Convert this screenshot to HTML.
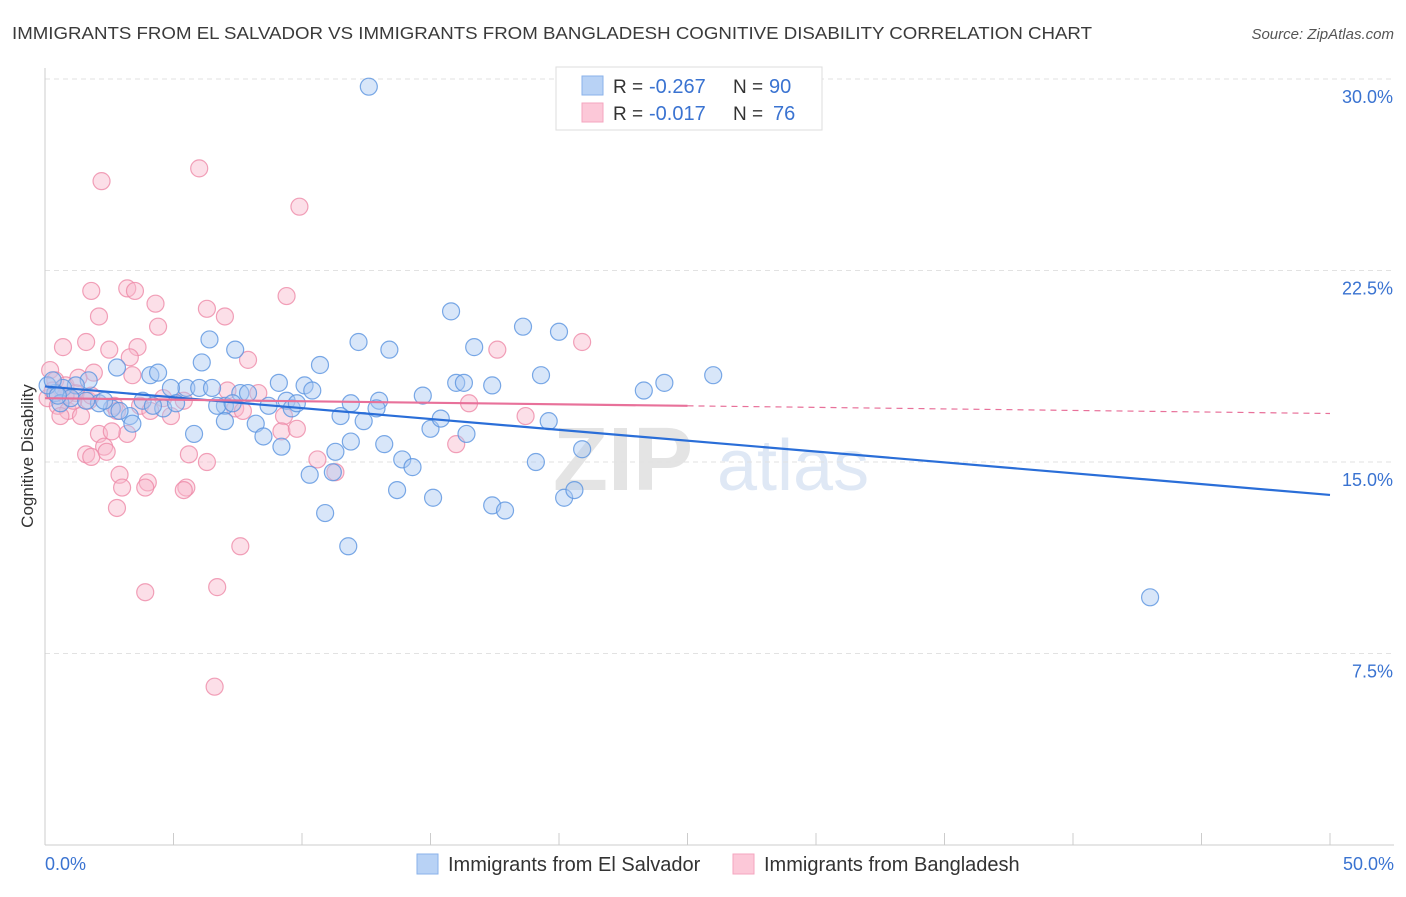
<!DOCTYPE html>
<html><head><meta charset="utf-8"><style>
body{margin:0;background:#fff;font-family:"Liberation Sans",sans-serif;}
svg text{font-family:"Liberation Sans",sans-serif;}
</style></head><body>
<svg id="chart" width="1406" height="892" xmlns="http://www.w3.org/2000/svg">
<text x="12" y="39" font-size="17.5" fill="#3a3a3a" textLength="1080" lengthAdjust="spacingAndGlyphs">IMMIGRANTS FROM EL SALVADOR VS IMMIGRANTS FROM BANGLADESH COGNITIVE DISABILITY CORRELATION CHART</text>
<text x="1394" y="39" font-size="15" fill="#555" font-style="italic" text-anchor="end">Source: ZipAtlas.com</text>
<text x="553" y="490" font-size="90" fill="#e4e4e4" font-family="Liberation Serif" font-weight="bold">ZIP</text>
<text x="717" y="490" font-size="72" fill="#dfe8f5">atlas</text>
<g id="grid"></g>
<g id="axes"></g>
<g id="pts"></g>
<g id="trend"></g>
<text transform="translate(33,456) rotate(-90)" font-size="17" fill="#333" text-anchor="middle">Cognitive Disability</text>
<g>
<rect x="556" y="67" width="266" height="63" fill="#fff" stroke="#ddd"/>
<rect x="582" y="76" width="21" height="19" fill="#b8d2f5" stroke="#8ab2ea"/>
<rect x="582" y="103" width="21" height="19" fill="#fcc8d8" stroke="#f4a6bf"/>
<text x="613" y="93" font-size="19" fill="#333">R =</text>
<text x="649" y="93" font-size="20" fill="#3a73d1">-0.267</text>
<text x="733" y="93" font-size="19" fill="#333">N =</text>
<text x="769" y="93" font-size="20" fill="#3a73d1">90</text>
<text x="613" y="120" font-size="19" fill="#333">R =</text>
<text x="649" y="120" font-size="20" fill="#3a73d1">-0.017</text>
<text x="733" y="120" font-size="19" fill="#333">N =</text>
<text x="773" y="120" font-size="20" fill="#3a73d1">76</text>
</g>
<g>
<rect x="417" y="854" width="21" height="20" fill="#b8d2f5" stroke="#8ab2ea"/>
<text x="448" y="871" font-size="20" fill="#333">Immigrants from El Salvador</text>
<rect x="733" y="854" width="21" height="20" fill="#fcc8d8" stroke="#f4a6bf"/>
<text x="764" y="871" font-size="20" fill="#333">Immigrants from Bangladesh</text>
</g>
</svg>
<script>
const blueX=[12.6,15.8,18.6,20.0,6.4,7.4,12.2,13.4,16.7,10.7,6.1,2.8,4.1,4.4,26.0,19.3,24.1,23.3,17.4,16.0,16.3,9.1,10.1,10.4,5.5,6.0,6.5,7.6,7.9,4.9,3.8,4.6,5.1,4.2,3.3,3.4,2.6,2.1,1.7,1.2,0.7,0.4,0.6,1.0,1.6,2.3,2.9,7.0,6.7,7.3,8.7,9.4,9.6,9.8,11.9,13.0,12.9,11.5,12.4,14.7,15.0,15.4,19.6,16.4,7.0,8.2,8.5,5.8,11.9,13.2,11.3,9.2,13.9,14.3,19.1,20.9,10.3,11.2,13.7,15.1,17.4,17.9,20.2,20.6,10.9,11.8,43.0,0.1,0.3,0.5];
const blueY=[29.7,20.9,20.3,20.1,19.8,19.4,19.7,19.4,19.5,18.8,18.9,18.7,18.4,18.5,18.4,18.4,18.1,17.8,18.0,18.1,18.1,18.1,18.0,17.8,17.9,17.9,17.9,17.7,17.7,17.9,17.4,17.1,17.3,17.2,16.8,16.5,17.1,17.3,18.2,18.0,17.9,17.7,17.3,17.5,17.4,17.4,17.0,17.2,17.2,17.3,17.2,17.4,17.1,17.3,17.3,17.4,17.1,16.8,16.6,17.6,16.3,16.7,16.6,16.1,16.6,16.5,16.0,16.1,15.8,15.7,15.4,15.6,15.1,14.8,15.0,15.5,14.5,14.6,13.9,13.6,13.3,13.1,13.6,13.9,13.0,11.7,9.7,18.0,18.2,17.6];
const pinkX=[6.0,2.2,9.9,1.8,3.2,3.5,2.1,4.3,4.4,6.3,7.0,9.4,0.7,1.6,2.5,3.6,3.3,7.9,20.9,17.6,1.9,3.4,0.2,0.4,0.8,1.2,0.1,0.5,0.9,1.4,1.7,2.7,2.8,4.9,4.6,7.4,7.7,8.3,9.3,16.5,18.7,2.1,3.2,2.6,2.3,1.6,1.8,5.6,2.4,6.3,9.2,10.6,11.3,2.9,3.0,4.0,3.9,5.5,5.4,2.8,7.6,3.9,6.7,6.6,16.0,1.1,0.3,1.3,0.6,0.8,1.8,7.1,9.8,5.4,3.7,4.1];
const pinkY=[26.5,26.0,25.0,21.7,21.8,21.7,20.7,21.2,20.3,21.0,20.7,21.5,19.5,19.7,19.4,19.5,19.1,19.0,19.7,19.4,18.5,18.4,18.6,18.2,18.0,17.7,17.5,17.2,17.0,16.8,17.4,17.2,17.0,16.8,17.5,17.1,17.0,17.7,16.8,17.3,16.8,16.1,16.1,16.2,15.6,15.3,15.2,15.3,15.4,15.0,16.2,15.1,14.6,14.5,14.0,14.2,14.0,14.0,13.9,13.2,11.7,9.9,10.1,6.2,15.7,17.4,17.8,18.3,16.8,17.6,17.6,17.8,16.3,17.4,17.2,17.0];
const blueTrend=[17.96,13.71];
const pinkTrend=[17.5,16.9];
const pinkSolidEnd=25;
const yTicks=[7.5,15.0,22.5,30.0];
const yTickLabels=["7.5%","15.0%","22.5%","30.0%"];
const xTicks=[0,5,10,15,20,25,30,35,40,45,50];
const xEdgeLabels=["0.0%","50.0%"];

const NS="http://www.w3.org/2000/svg";
const X=v=>45+v*25.7, Y=v=>845-v*25.533;
function mk(tag,attrs,parent){const e=document.createElementNS(NS,tag);for(const k in attrs)e.setAttribute(k,attrs[k]);document.getElementById(parent).appendChild(e);return e;}
yTicks.forEach((t,i)=>{
 const l=mk('line',{x1:45,x2:1394,y1:Y(t),y2:Y(t),stroke:'#e2e2e2','stroke-dasharray':'5,4'},'grid');
 
 
 const tx=mk('text',{x:1393,y:Y(t)+24,'font-size':18,fill:'#3a73d1','text-anchor':'end'},'grid');
 tx.textContent=yTickLabels[i];
 
 
});
const ya=mk('line',{x1:45,x2:45,y1:68,y2:845,stroke:'#ccc'},'axes');


const xa=mk('line',{x1:45,x2:1394,y1:845,y2:845,stroke:'#ccc'},'axes');


xTicks.forEach(t=>{
 const l=mk('line',{x1:X(t),x2:X(t),y1:833,y2:845,stroke:'#ccc'},'axes');
 
 
});
[[0,'start',45],[50,'end',1394]].forEach((d,i)=>{
 const tx=mk('text',{x:d[2],y:870,'font-size':18,fill:'#3a73d1','text-anchor':d[1]},'axes');
 tx.textContent=xEdgeLabels[i];
 
 
});
function pts(xs,ys,fill,stroke,name){xs.forEach((v,i)=>{
 const c=mk('circle',{cx:X(v),cy:Y(ys[i]),r:8.5,fill:fill,'fill-opacity':0.45,stroke:stroke,'stroke-opacity':0.8,'stroke-width':1.2},'pts');
 
 
});}
pts(pinkX,pinkY,'#f9b8cc','#ee89a8','bangladesh-point');
pts(blueX,blueY,'#a9c8f2','#5a93e0','el-salvador-point');
const bt=mk('line',{x1:X(0),y1:Y(blueTrend[0]),x2:X(50),y2:Y(blueTrend[1]),stroke:'#2a6ed8','stroke-width':2.2},'trend');


const pm=pinkTrend[0]+(pinkTrend[1]-pinkTrend[0])*pinkSolidEnd/50;
const pt=mk('line',{x1:X(0),y1:Y(pinkTrend[0]),x2:X(pinkSolidEnd),y2:Y(pm),stroke:'#e8719a','stroke-width':2.2},'trend');


const pd=mk('line',{x1:X(pinkSolidEnd),y1:Y(pm),x2:X(50),y2:Y(pinkTrend[1]),stroke:'#e8719a','stroke-width':1.2,'stroke-dasharray':'6,5'},'trend');


</script>
</body></html>
